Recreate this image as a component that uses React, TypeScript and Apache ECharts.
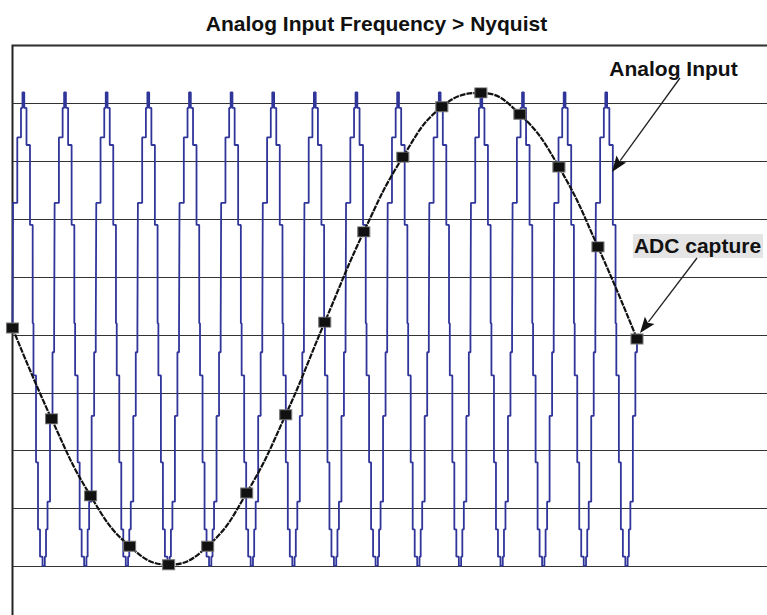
import React, { useEffect, useRef } from "react";
import * as echarts from "echarts";

// ---- Texts ----
const titleText = "Analog Input Frequency > Nyquist";
const analogLabel = "Analog Input";
const adcLabel = "ADC capture";

// ---- ADC capture (one sample per ADC clock) ----
const adcSampleIndex = [0, 1, 2, 3, 4, 5, 6, 7, 8, 9, 10, 11, 12, 13, 14, 15, 16];
const adcValues = [0.12, -1.45, -2.78, -3.65, -3.97, -3.65, -2.73, -1.38, 0.22, 1.78, 3.07, 3.94, 4.18, 3.81, 2.9, 1.52, -0.07];

// ---- Analog input: 15 cycles over 16 ADC samples, drawn as a stepped trace ----
const analogCycles = 15;
const analogPeriod = 16 / 15; // in ADC sample periods
// one cycle of the stepped trace: phase within cycle, level
const analogStepPhase = [0, 0.012, 0.115, 0.204, 0.24, 0.283, 0.336, 0.42, 0.485, 0.504, 0.565, 0.613, 0.661, 0.721, 0.776, 0.805, 0.841, 0.901, 0.961];
const analogStepLevel = [0.1, 2.28, 3.41, 3.92, 4.19, 3.92, 3.28, 1.9, 0.2, -0.7, -2.2, -3.36, -3.83, -3.99, -3.83, -3.36, -2.88, -1.4, -0.3];
const analogEndLevel = -0.1;

// ---- Axis ----
const yMin = -5;
const yMax = 5;
const yInterval = 1;
const xMin = 0;
const xMax = 20;

const FONT = "'Liberation Sans', Arial, Helvetica, sans-serif";

function arrow(x1: number, y1: number, x2: number, y2: number, len: number, half: number) {
  const dx = x2 - x1;
  const dy = y2 - y1;
  const d = Math.sqrt(dx * dx + dy * dy);
  const ux = dx / d;
  const uy = dy / d;
  const bx = x2 - ux * len;
  const by = y2 - uy * len;
  const px = -uy;
  const py = ux;
  return [
    {
      type: "line",
      shape: { x1, y1, x2: bx + ux * 2, y2: by + uy * 2 },
      style: { stroke: "#222", lineWidth: 1.3 },
      z: 100,
    },
    {
      type: "polygon",
      shape: {
        points: [
          [x2, y2],
          [bx + px * half, by + py * half],
          [bx + ux * 3, by + uy * 3],
          [bx - px * half, by - py * half],
        ],
      },
      style: { fill: "#111" },
      z: 100,
    },
  ];
}

export default function App() {
  const ref = useRef<HTMLDivElement>(null);

  useEffect(() => {
    if (!ref.current) return;
    const chart = echarts.init(ref.current, null, { renderer: "svg" });

    const analogData: number[][] = [];
    for (let c = 0; c < analogCycles; c++) {
      for (let i = 0; i < analogStepPhase.length; i++) {
        analogData.push([(c + analogStepPhase[i]) * analogPeriod, analogStepLevel[i]]);
      }
    }
    analogData.push([analogCycles * analogPeriod, analogEndLevel]);

    const adcData = adcSampleIndex.map((k, i) => [k, adcValues[i]]);

    chart.setOption({
      animation: false,
      backgroundColor: "#ffffff",
      grid: {
        left: 12.5,
        top: 45.4,
        right: 6.9,
        bottom: 15.6,
        show: true,
        borderColor: "#222",
        borderWidth: 2,
        backgroundColor: "transparent",
      },
      xAxis: {
        type: "value",
        min: xMin,
        max: xMax,
        axisLine: { show: false },
        axisTick: { show: false },
        axisLabel: { show: false },
        splitLine: { show: false },
      },
      yAxis: {
        type: "value",
        min: yMin,
        max: yMax,
        interval: yInterval,
        axisLine: { show: false },
        axisTick: { show: false },
        axisLabel: { show: false },
        splitLine: { show: true, lineStyle: { color: "#333", width: 1 } },
      },
      series: [
        {
          name: "Analog Input",
          type: "line",
          data: analogData,
          step: "end",
          showSymbol: false,
          symbol: "none",
          lineStyle: { color: "#30359a", width: 1.8 },
          z: 2,
        },
        {
          name: "ADC capture",
          type: "line",
          data: adcData,
          smooth: 0.45,
          symbol: "rect",
          symbolSize: [12, 10],
          itemStyle: { color: "#111", borderColor: "#777", borderWidth: 1 },
          lineStyle: { color: "#111", width: 2.2, type: [6, 1] },
          z: 3,
        },
      ],
      graphic: [
        {
          type: "text",
          x: 376.5,
          y: 23.5,
          style: {
            text: titleText,
            font: `bold 21px ${FONT}`,
            fill: "#111",
            align: "center",
            verticalAlign: "middle",
          },
        },
        {
          type: "text",
          x: 673.5,
          y: 68,
          style: {
            text: analogLabel,
            font: `bold 21px ${FONT}`,
            fill: "#111",
            align: "center",
            verticalAlign: "middle",
          },
          z: 100,
        },
        {
          type: "rect",
          shape: { x: 633, y: 234, width: 130, height: 24 },
          style: { fill: "#e4e4e4" },
          z: 99,
        },
        {
          type: "text",
          x: 697.5,
          y: 245.5,
          style: {
            text: adcLabel,
            font: `bold 21px ${FONT}`,
            fill: "#111",
            align: "center",
            verticalAlign: "middle",
          },
          z: 100,
        },
        ...arrow(680, 78, 612, 172, 16, 6),
        ...arrow(697, 258, 640, 333, 16, 6),
      ],
    });

    return () => {
      chart.dispose();
    };
  }, []);

  return (
    <div
      style={{
        position: "fixed",
        left: 0,
        top: 0,
        width: 767,
        height: 615,
        overflow: "hidden",
        background: "#fff",
      }}
    >
      <div ref={ref} style={{ width: 800, height: 640 }} />
    </div>
  );
}
